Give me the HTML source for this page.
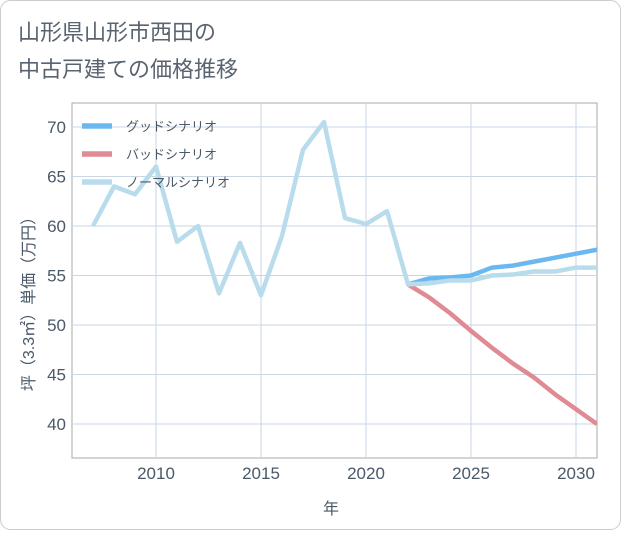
<!DOCTYPE html>
<html><head><meta charset="utf-8"><style>
body{margin:0;background:#fff}
.f{font-family:"Liberation Sans","Noto Sans CJK JP",sans-serif}
</style></head><body>
<svg id="c" width="621" height="530" xmlns="http://www.w3.org/2000/svg" class="f">
<rect x="0.5" y="0.5" width="620" height="529" rx="10" fill="#fff" stroke="#ccc"/>
<text x="18" y="40" font-size="22" fill="#5a6470">山形県山形市西田の</text>
<text x="18" y="77" font-size="22" fill="#5a6470">中古戸建ての価格推移</text>
<g id="grid"></g>
<g id="series"></g>
<g id="legend"></g>
<text x="331" y="514" font-size="16" fill="#4a5868" text-anchor="middle">年</text>
<text transform="translate(34,300) rotate(-90)" font-size="16" fill="#4a5868" text-anchor="middle">坪（3.3㎡）単価（万円）</text>
</svg>
<script>
const years=[2007,2008,2009,2010,2011,2012,2013,2014,2015,2016,2017,2018,2019,2020,2021,2022,2023,2024,2025,2026,2027,2028,2029,2030,2031];
const normal=[60,64,63.2,66,58.4,60,53.2,58.3,53,59,67.7,70.5,60.8,60.2,61.5,54.1,54.2,54.5,54.5,55,55.1,55.4,55.4,55.8,55.8];
const goodYears=[2022,2023,2024,2025,2026,2027,2028,2029,2030,2031];
const good=[54.1,54.7,54.8,55,55.8,56,56.4,56.8,57.2,57.6];
const bad=[54.1,52.8,51.2,49.4,47.7,46.1,44.7,43,41.5,40];
const xTicks=[2010,2015,2020,2025,2030];
const yTicks=[40,45,50,55,60,65,70];
const L=72,R=597,T=103,B=458;
const x=v=>156+(v-2010)*21;
const y=v=>127+(70-v)*9.9;
const NS='http://www.w3.org/2000/svg';
function mk(p,t,a){const e=document.createElementNS(NS,t);for(const k in a)e.setAttribute(k,a[k]);p.appendChild(e);return e;}
const g=document.getElementById('grid');
const bg=mk(g,'rect',{x:L,y:T,width:R-L,height:B-T,fill:'#fff',stroke:'#aaa'});


yTicks.forEach(v=>{
 const l=mk(g,'line',{x1:L,x2:R,y1:y(v),y2:y(v),stroke:'#c9d6e3'});
 
 
 const t=mk(g,'text',{x:L-6,y:y(v)+6,'font-size':17,fill:'#4a5868','text-anchor':'end'});t.textContent=v;
 
 
});
xTicks.forEach(v=>{
 const l=mk(g,'line',{x1:x(v),x2:x(v),y1:T,y2:B,stroke:'#c9d6e3'});
 
 
 const t=mk(g,'text',{x:x(v),y:B+21,'font-size':17,fill:'#4a5868','text-anchor':'middle'});t.textContent=v;
 
 
});
const s=document.getElementById('series');
function line(xs,vs,col,name){
 const p=mk(s,'polyline',{points:xs.map((yr,i)=>x(yr)+','+y(vs[i])).join(' '),fill:'none',stroke:col,'stroke-width':4.5,'stroke-linejoin':'round'});
 
 
}
const cp=mk(s,'clipPath',{id:'cl'});mk(cp,'rect',{x:L,y:T,width:R-L,height:B-T});
s.setAttribute('clip-path','url(#cl)');
line(goodYears,bad,'#e08a94','bad-scenario-line');
line(goodYears,good,'#6bb8f0','good-scenario-line');
line(years,normal,'#b9dcec','normal-scenario-line');
const lg=document.getElementById('legend');
[['グッドシナリオ','#6bb8f0'],['バッドシナリオ','#e08a94'],['ノーマルシナリオ','#b9dcec']].forEach((d,i)=>{
 const yy=126+i*28;
 const l=mk(lg,'line',{x1:82,x2:112,y1:yy,y2:yy,stroke:d[1],'stroke-width':5.5});
 
 
 const t=mk(lg,'text',{x:126,y:yy+5,'font-size':13,fill:'#4a5868'});t.textContent=d[0];
 
 
});
</script>
</body></html>
